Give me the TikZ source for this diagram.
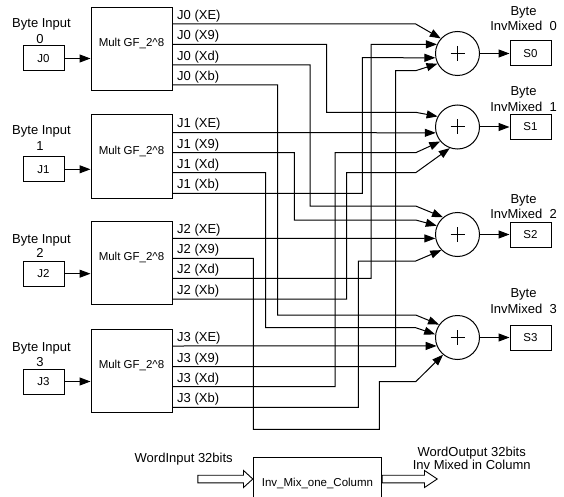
\documentclass[tikz,border=0pt]{standalone}
\usepackage{fontspec}
\setmainfont{Liberation Sans}
\usetikzlibrary{arrows.meta}
\begin{document}
\begin{tikzpicture}[x=1pt,y=-1pt,
  wire/.style={line width=1pt},
  arr/.style={wire,-{Triangle[length=11pt,width=8pt]}},
  lbl/.style={font=\fontsize{13}{15}\selectfont,inner sep=0pt,anchor=base},
  lblw/.style={lbl,anchor=base west},
  btxt/.style={font=\fontsize{11.5}{13}\selectfont,inner sep=0pt,anchor=base},
  inbox/.style={draw,line width=1pt,minimum width=41pt,minimum height=25pt,inner sep=0pt,font=\fontsize{11.5}{13}\selectfont},
  multbox/.style={draw,line width=1pt,minimum width=81pt,minimum height=83pt,inner sep=0pt},
  adder/.style={draw,circle,line width=1pt,minimum size=44pt,inner sep=0pt},
  hollow/.style={draw,line width=0.9pt}
]
\useasboundingbox (0,0) rectangle (564,497);
\clip (0,0) rectangle (564,497);

% ---- input blocks and multiplier boxes
\foreach \k/\T/\jy/\ly/\dy in {0/7.3/58.5/27.6/43.6, 1/115/169.3/134.6/150.6, 2/221/273.7/243.6/257.6, 3/329.3/381.5/351.6/366.6}{
  \node[multbox] (m\k) at (131.5,\T+41.5) {};
  \node[btxt] (m\k t) at (131.5,\T+39) {Mult GF\_2\textasciicircum 8};
  \node[inbox] (jb\k) at (43.5,\jy) {J\k};
  \node[lbl] (bi\k) at (41.5,\ly) {Byte Input};
  \node[lbl] (bn\k) at (40,\dy) {\k};
  \draw[arr] (jb\k.east) -- (jb\k.east -| m\k.west);
}

% ---- output ports and labels
\foreach \k/\a/\b/\c/\d in {0/24/44.3/65/85, 1/132.5/152.7/172.7/193.3, 2/238.3/258.3/278.3/299, 3/346/366.7/386.7/407.3}{
  \coordinate (j\k xe) at (172,\a);
  \coordinate (j\k x9) at (172,\b);
  \coordinate (j\k xd) at (172,\c);
  \coordinate (j\k xb) at (172,\d);
  \node[lblw] (l\k xe) at (177,\a-4.5) {J\k\ (XE)};
  \node[lblw] (l\k x9) at (177,\b-4.5) {J\k\ (X9)};
  \node[lblw] (l\k xd) at (177,\c-4.5) {J\k\ (Xd)};
  \node[lblw] (l\k xb) at (177,\d-4.5) {J\k\ (Xb)};
}

% ---- adders and outputs
\foreach \k/\y/\by/\iy in {0/53.5/15.1/30.6, 1/127/95.6/111.1, 2/234.5/203.6/218.6, 3/337.5/297.6/313.1}{
  \node[adder] (a\k) at (457.5,\y) {};
  \draw[wire] (a\k.center) +(-7,0) -- +(7,0) +(0,-7.5) -- +(0,7.5);
  \node[inbox] (s\k) at (530.5,\y) {S\k};
  \node[lbl] (bo\k) at (523.5,\by) {Byte};
  \node[lbl] (im\k) at (523.5,\iy) {InvMixed\ \ \k};
  \draw[arr] (a\k) -- (s\k);
}

% ---- routing
\draw[arr] (j0xe) -- (415.7,24) -- (a0.138);
\draw[arr] (j0x9) -| (326.7,112.3) -- (415.7,112.3) -- (a1.152);
\draw[arr] (j0xd) -| (310,206) -- (415.7,206) -- (a2.130);
\draw[arr] (j0xb) -| (277.5,315) -- (415.7,315) -- (a3.145);

\draw[arr] (j1xe) -- (a1.195);
\draw[arr] (j1x9) -| (294.3,220) -- (415.7,220) -- (a2.157);
\draw[arr] (j1xd) -| (265.7,327.7) -- (415.7,327.7) -- (a3.172);
\draw[arr] (j1xb) -| (362.3,57.7) -- (a0.191);

\draw[arr] (j2xe) -- (a2.190);
\draw[arr] (j2x9) -| (253.3,429.3) -| (379.3,381.7) -- (415.7,381.7) -- (a3.230);
\draw[arr] (j2xd) -| (371,44.3) -- (a0.156);
\draw[arr] (j2xb) -| (346.7,172.7) -- (415.7,172.7) -- (a1.250);

\draw[arr] (j3xe) -- (a3.202);
\draw[arr] (j3x9) -| (395.7,70.7) -- (415.7,70.7) -- (a0.207);
\draw[arr] (j3xd) -| (335,152.7) -- (415.7,152.7) -- (a1.220);
\draw[arr] (j3xb) -| (358.3,261) -- (415.7,261) -- (a2.224);

% ---- bottom summary block
\node[draw,line width=1pt,minimum width=128.4pt,minimum height=52.5pt,inner sep=0pt,
      font=\fontsize{11.5}{13}\selectfont] (inv) at (317.5,483.75) {Inv\_Mix\_one\_Column};
\node[lbl] (wi) at (183.7,462.6) {WordInput 32bits};
\node[lbl] (wo1) at (471.7,456.3) {WordOutput 32bits};
\node[lbl] (wo2) at (471.7,469.8) {Inv Mixed in Column};
\coordinate (inL) at (inv.west |- 0,479);
\coordinate (inR) at (inv.east |- 0,479);
\draw[hollow] (inL) ++(-55,-3.8) -- ++(45.7,0) -- ++(0,-4.7) -- (inL) -- ++(-9.3,8.5) -- ++(0,-4.7) -- ++(-45.7,0) -- cycle;
\draw[hollow] (inR) ++(0,-3.8) -- ++(42.3,0) -- ++(0,-4.7) -- ++(12.7,8.5) -- ++(-12.7,8.5) -- ++(0,-4.7) -- ++(-42.3,0) -- cycle;
\end{tikzpicture}
\end{document}
